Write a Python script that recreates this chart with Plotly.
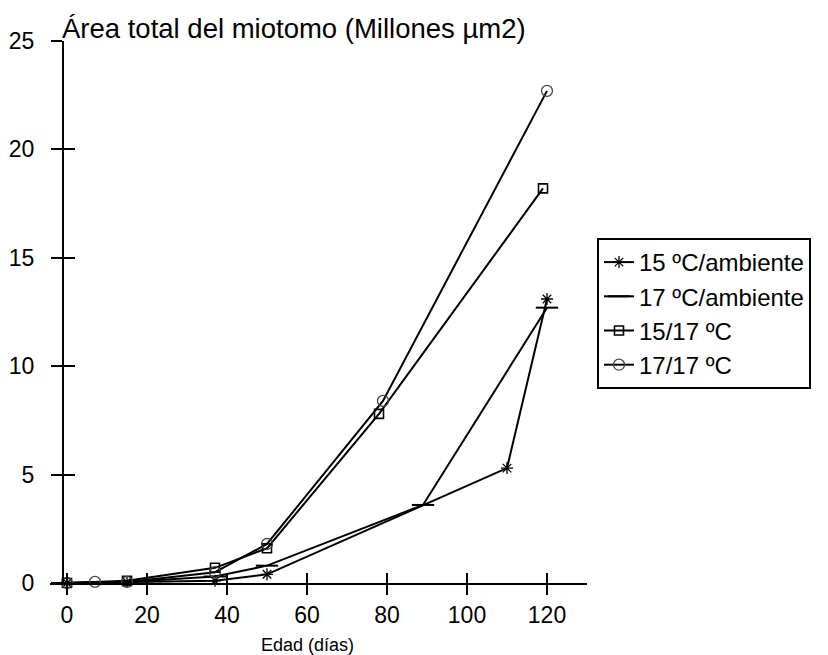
import plotly.graph_objects as go

# ---- data ----
x_15amb = [0, 15, 37, 50, 110, 120]
y_15amb = [0.0, 0.05, 0.1, 0.4, 5.3, 13.1]

x_17amb = [0, 15, 37, 50, 89, 120]
y_17amb = [0.0, 0.05, 0.3, 0.8, 3.6, 12.7]

x_1517 = [0, 15, 37, 50, 78, 119]
y_1517 = [0.0, 0.1, 0.7, 1.6, 7.8, 18.2]

x_1717 = [0, 7, 15, 37, 50, 79, 120]
y_1717 = [0.0, 0.05, 0.05, 0.5, 1.8, 8.4, 22.7]

names = ["15 ºC/ambiente", "17 ºC/ambiente", "15/17 ºC", "17/17 ºC"]
x_ticks = [0, 20, 40, 60, 80, 100, 120]
y_ticks = [0, 5, 10, 15, 20, 25]

FONT = "Liberation Sans, Arial, sans-serif"
X_RANGE = [-4.25, 130]
Y_RANGE = [0, 25]
YPOS = 13 / 537

fig = go.Figure()

series = [
    (x_15amb, y_15amb, names[0], dict(symbol="asterisk-open", size=10, color="black", line=dict(color="black", width=1.3))),
    (x_17amb, y_17amb, names[1], dict(symbol="line-ew-open", size=16, color="black", line=dict(color="black", width=2))),
    (x_1517, y_1517, names[2], dict(symbol="square-open", size=9, color="black", line=dict(color="black", width=1.6))),
    (x_1717, y_1717, names[3], dict(symbol="circle-open", size=11, color="#444", line=dict(color="#444", width=1.3))),
]
for xs, ys, nm, mk in series:
    fig.add_trace(go.Scatter(
        x=xs, y=ys, name=nm, mode="lines+markers",
        line=dict(color="black", width=2),
        marker=mk, cliponaxis=False,
    ))

# dummy trace for overlay axes (inner half of crossing ticks)
fig.add_trace(go.Scatter(x=[None], y=[None], xaxis="x2", yaxis="y2",
                         showlegend=False, hoverinfo="skip"))

tickfont = dict(family=FONT, size=23, color="black")

fig.update_layout(
    width=828, height=655,
    margin=dict(l=50, r=241, t=41, b=72, autoexpand=False),
    paper_bgcolor="white", plot_bgcolor="white",
    font=dict(family=FONT, color="black"),
    xaxis=dict(range=X_RANGE, tickvals=x_ticks, ticks="outside", ticklen=10,
               tickwidth=2, tickcolor="black", showline=True, linecolor="black",
               linewidth=2, showgrid=False, zeroline=False, tickfont=tickfont,
               anchor="y", fixedrange=True, automargin=False),
    yaxis=dict(range=Y_RANGE, tickvals=y_ticks, ticks="outside", ticklen=11,
               tickwidth=2, tickcolor="black", showline=True, linecolor="black",
               linewidth=2, showgrid=False, zeroline=False, tickfont=tickfont,
               anchor="free", position=YPOS, fixedrange=True, ticklabelstandoff=12,
               automargin=False),
    xaxis2=dict(range=X_RANGE, tickvals=x_ticks, ticks="inside", ticklen=10,
                tickwidth=2, tickcolor="black", showline=False, showgrid=False,
                zeroline=False, showticklabels=False, overlaying="x", anchor="y2",
                automargin=False),
    yaxis2=dict(range=Y_RANGE, tickvals=y_ticks, ticks="inside", ticklen=11,
                tickwidth=2, tickcolor="black", showline=False, showgrid=False,
                zeroline=False, showticklabels=False, overlaying="y",
                anchor="free", position=YPOS, automargin=False),
    legend=dict(x=(597 - 50) / 537, y=(583 - 313.5) / 542, xanchor="left", yanchor="middle",
                bgcolor="white", bordercolor="black", borderwidth=2,
                font=dict(family=FONT, size=24, color="black"),
                tracegroupgap=0),
    showlegend=True,
)

fig.add_annotation(text="Área total del miotomo (Millones µm2)", xref="paper", yref="paper",
                   x=(60 - 50) / 537, y=1, xanchor="left", yanchor="bottom",
                   yshift=-5, showarrow=False,
                   font=dict(family=FONT, size=27.5, color="black"))
fig.add_annotation(text="Edad (días)", xref="x", yref="paper",
                   x=60, y=0, xanchor="center", yanchor="middle", yshift=-62,
                   showarrow=False, font=dict(family=FONT, size=18, color="black"))

fig.write_html("out.html")
